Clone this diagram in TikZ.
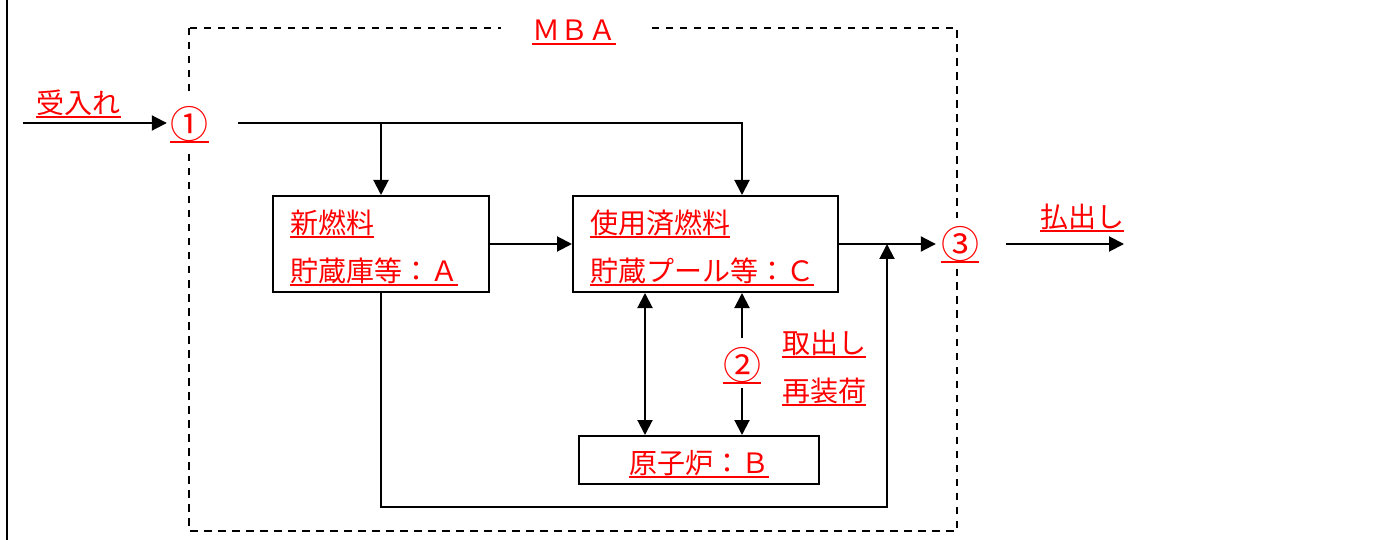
\documentclass[tikz,border=0pt]{standalone}
\usepackage{fontspec}
\newfontfamily\jp{Noto Sans CJK JP}
\usetikzlibrary{arrows.meta}
\newcommand\ulbl[4]{\node[lbl,anchor=#2] (#1) at #3 {#4}; \draw[ul] (#1.south west) -- (#1.south east);}
\newcommand\ucirc[3]{\node[lbl,font=\jp\fontsize{38pt}{44pt}\selectfont,anchor=center] (#1) at #2 {#3}; \draw[ul] (#1.south west) -- (#1.south east);}
\begin{document}
\begin{tikzpicture}[x=1pt,y=-1pt,
  ln/.style={line width=2pt,black},
  arr/.style={ln,-{Triangle[length=15pt,width=15pt]}},
  dbl/.style={ln,{Triangle[length=15pt,width=15pt]}-{Triangle[length=15pt,width=15pt]}},
  boxn/.style={draw,line width=2pt,inner sep=0pt},
  mask/.style={fill=white,inner sep=0pt},
  lbl/.style={text=red,inner sep=0pt,font=\jp\fontsize{28pt}{34pt}\selectfont,text height=24.64pt,text depth=3.36pt},
  ul/.style={red,line width=2pt},
  mbaline/.style={line width=2pt,dash pattern=on 7.5pt off 6.5pt}
]
\useasboundingbox (0,0) rectangle (1382,540);
% left border line
\draw[line width=2.5pt] (7,0) -- (7,540);
% MBA dashed boundary
\draw[mbaline] (189,28) rectangle (957,531);
\node[mask,minimum width=151pt,minimum height=10pt] (mM) at (576.5,28) {};
\node[mask,minimum width=71pt,minimum height=55pt] (m1) at (202.5,123) {};
\node[mask,minimum width=70pt,minimum height=51pt] (m3) at (971,244) {};
\node[inner sep=0pt,minimum width=32pt,minimum height=50pt] (m2) at (742,363) {};
% boxes
\node[boxn,minimum width=216pt,minimum height=96pt] (boxA) at (381,244) {};
\node[boxn,minimum width=265pt,minimum height=96pt] (boxC) at (705.5,244) {};
\node[boxn,minimum width=240pt,minimum height=48pt] (boxB) at (699,460) {};
% helper coordinates
\coordinate (in) at (23,123);
\coordinate (out) at (1124,244);
\coordinate (xa) at (645,0);
\coordinate (xb) at (742,0);
\coordinate (jb) at (887,507);
% connectors
\draw[arr] (in) -- (m1.west);
\draw[arr] (m1.east) -| (boxC.north -| xb);
\draw[arr] (m1.east -| boxA.north) -- (boxA.north);
\draw[arr] (boxA.east) -- (boxC.west);
\draw[arr] (boxC.east) -- (m3.west);
\draw[arr] (boxA.south) |- (jb) -- (jb |- boxC.east);
\draw[arr] (m3.east) -- (out);
\draw[dbl] (boxC.south -| xa) -- (boxB.north -| xa);
\draw[arr] (m2.north) -- (boxC.south -| xb);
\draw[arr] (m2.south) -- (boxB.north -| xb);
% labels
\ulbl{tIn}{center}{(78.5,103)}{受入れ}
\ulbl{tMBA}{center}{(574,30)}{ＭＢＡ}
\ucirc{t1}{(189.5,128)}{①}
\ulbl{tA1}{west}{(290,223)}{新燃料}
\ulbl{tA2}{west}{(290,271)}{貯蔵庫等：Ａ}
\ulbl{tC1}{west}{(590,223)}{使用済燃料}
\ulbl{tC2}{west}{(590,271)}{貯蔵プール等：Ｃ}
\ulbl{tB}{west}{(629,463)}{原子炉：Ｂ}
\ucirc{t2}{(742,369)}{②}
\ulbl{tTake}{west}{(782,343)}{取出し}
\ulbl{tLoad}{west}{(782,391)}{再装荷}
\ucirc{t3}{(960,248)}{③}
\ulbl{tOut}{west}{(1040,217)}{払出し}
\end{tikzpicture}
\end{document}
